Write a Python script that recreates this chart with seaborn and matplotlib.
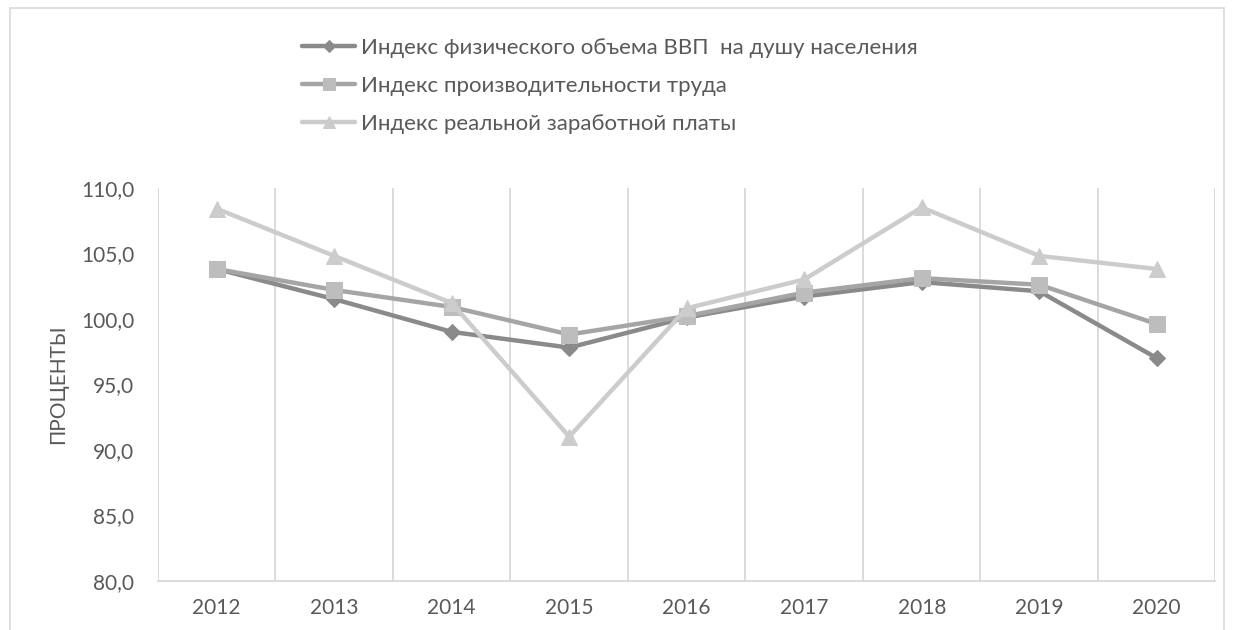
import numpy as np
import pandas as pd
import matplotlib
matplotlib.use("Agg")
import matplotlib.pyplot as plt
import seaborn as sns
from matplotlib.patches import Rectangle

years = [2012, 2013, 2014, 2015, 2016, 2017, 2018, 2019, 2020]
gdp_per_capita = [103.8, 101.5, 99.0, 97.8, 100.1, 101.7, 102.8, 102.1, 97.0]
labor_productivity = [103.8, 102.2, 100.9, 98.8, 100.2, 102.0, 103.1, 102.6, 99.6]
real_wages = [108.4, 104.8, 101.2, 91.0, 100.8, 103.0, 108.5, 104.8, 103.8]

labels = ["Индекс физического объема ВВП  на душу населения",
          "Индекс производительности труда",
          "Индекс реальной заработной платы"]
y_ticks = [80, 85, 90, 95, 100, 105, 110]

sns.set_theme(style="white")
plt.rcParams['font.family'] = ['Lato', 'DejaVu Sans']

fig = plt.figure(figsize=(12.34, 6.3), dpi=100)
ax = fig.add_axes([0.128, 0.078, 0.857, 0.624])

series = [
    (gdp_per_capita, "D", "#8a8a8a", "#8a8a8a", 8),
    (labor_productivity, "s", "#a5a5a5", "#bdbdbd", 11),
    (real_wages, "^", "#cccccc", "#cccccc", 11),
]
for (vals, mk, lc, mc, ms), lab in zip(series, labels):
    sns.lineplot(x=years, y=vals, ax=ax, color=lc, linewidth=3.2, marker=mk,
                 markersize=ms, markerfacecolor=mc, markeredgecolor=mc,
                 label=lab, zorder=3)

ax.set_xlim(years[0] - 0.5, years[-1] + 0.5)
ax.set_ylim(80, 110)
ax.set_yticks(y_ticks)
ax.set_yticklabels([f"{v:.1f}".replace(".", ",") for v in y_ticks])
ax.set_xticks(years)
ax.set_xticklabels([str(y) for y in years])
for b in np.arange(years[0] - 0.5, years[-1] + 1, 1.0):
    ax.axvline(b, color="#d9d9d9", linewidth=1.3, zorder=1)

for s in ["top", "right", "left"]:
    ax.spines[s].set_visible(False)
ax.spines["bottom"].set_color("#d9d9d9")
ax.spines["bottom"].set_linewidth(1.3)
ax.tick_params(axis="both", length=0, labelsize=15, colors="#595959")
ax.tick_params(axis="x", pad=12)
ax.tick_params(axis="y", pad=17)
ax.set_xlabel("")
ax.set_ylabel("ПРОЦЕНТЫ", fontsize=15, color="#595959", labelpad=9)

leg = ax.legend(loc="upper left", bbox_to_anchor=(0.2285, 0.972),
                bbox_transform=fig.transFigure, frameon=False, fontsize=16,
                handlelength=2.4, handletextpad=0.25, labelspacing=0.82,
                markerscale=0.75)
for t in leg.get_texts():
    t.set_color("#595959")

fig.patches.append(Rectangle((0.008, -0.02), 0.984, 1.007, transform=fig.transFigure,
                             fill=False, edgecolor="#d9d9d9", linewidth=1.2))

plt.savefig("out.png", dpi=100)
